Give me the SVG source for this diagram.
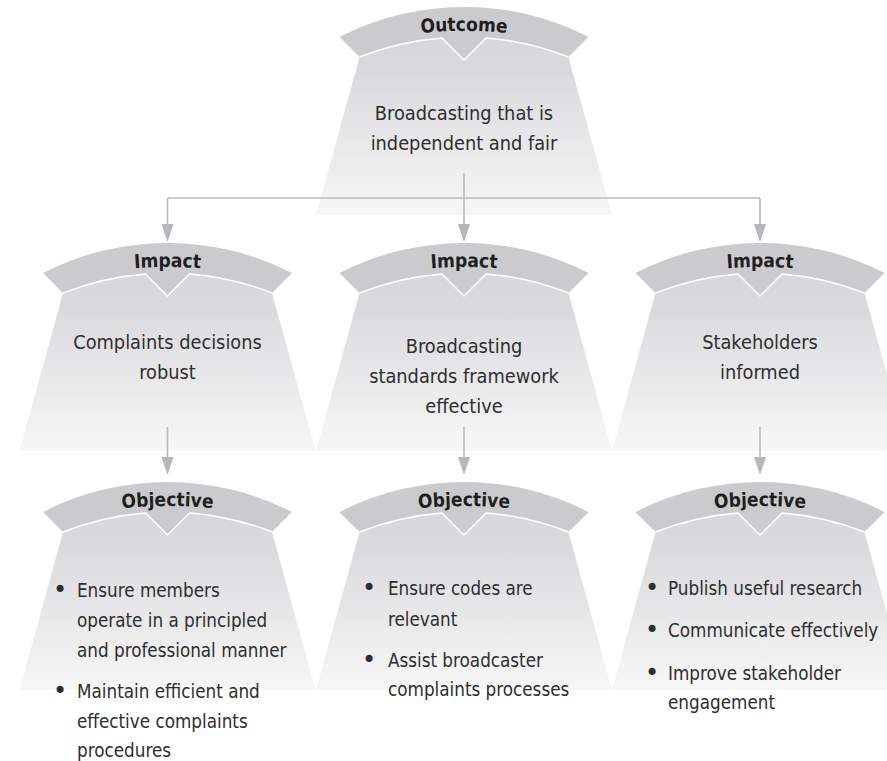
<svg xmlns="http://www.w3.org/2000/svg" xmlns:xlink="http://www.w3.org/1999/xlink" width="887" height="761" viewBox="0 0 887 761">
  <style>
    .label { font-family: 'DejaVu Sans Condensed', 'DejaVu Sans', sans-serif; font-stretch: condensed; font-weight: bold; font-size: 19px; fill: #1f1f1f; text-anchor: middle; }
    .main { font-family: 'DejaVu Sans Condensed', 'DejaVu Sans', sans-serif; font-stretch: condensed; font-size: 19.8px; fill: #2e2e2e; text-anchor: middle; }
    .item { font-family: 'DejaVu Sans Condensed', 'DejaVu Sans', sans-serif; font-stretch: condensed; font-size: 18.7px; fill: #2e2e2e; }
    .dot { font-family: 'DejaVu Sans', sans-serif; font-size: 24px; fill: #2e2e2e; text-anchor: middle; }
    .link { fill: none; stroke: #b9babd; stroke-width: 1.6; }
  </style>
  <defs>
    <linearGradient id="bodyFill" x1="0" y1="0" x2="0" y2="1">
      <stop offset="0" stop-color="#d7d7da"/>
      <stop offset="0.2" stop-color="#dadadd"/>
      <stop offset="1" stop-color="#f7f7f7"/>
    </linearGradient>
    <!-- shapes drawn around (0,0) = top centre of the header band -->
    <path id="body" d="M -104.5 50 L -148 208 L 148 208 L 104.5 50 L 104.5 30 L -104.5 30 Z" fill="url(#bodyFill)"/>
    <path id="band" d="M -124.5 30 A 273 273 0 0 1 124.5 30 L 104.5 50 A 283 283 0 0 0 22 30.9 L 0 53 L -22 30.9 A 283 283 0 0 0 -104.5 50 Z" fill="#cbcbce"/>
    <path id="bandEdge" d="M -104.5 50 A 283 283 0 0 1 -22 30.9 L 0 53 L 22 30.9 A 283 283 0 0 1 104.5 50" fill="none" stroke="#ffffff" stroke-width="1.5"/>
    <path id="labelArc" d="M -120 40.3 A 450 450 0 0 1 120 40.3" fill="none"/>
    <marker id="arrow" markerUnits="userSpaceOnUse" viewBox="0 0 18 12" markerWidth="18" markerHeight="12" refX="8" refY="6" orient="auto">
      <path d="M0,0 L18,6 L0,12 Z" fill="#b6b7ba"/>
    </marker>
  </defs>

  <rect width="887" height="761" fill="#ffffff"/>

  <!-- Outcome -->
  <g id="outcome">
    <use href="#body" transform="translate(464,7)"/>
    <use href="#band" transform="translate(464,7)"/>
    <use href="#bandEdge" transform="translate(464,7)"/>
    <text class="label" transform="translate(464,7)"><textPath href="#labelArc" startOffset="50%">Outcome</textPath></text>
    <text class="main" x="464" y="120">Broadcasting that is</text>
    <text class="main" x="464" y="150">independent and fair</text>
  </g>

  <!-- Impacts -->
  <g id="impact-complaints">
    <use href="#body" transform="translate(167.5,243)"/>
    <use href="#band" transform="translate(167.5,243)"/>
    <use href="#bandEdge" transform="translate(167.5,243)"/>
    <text class="label" transform="translate(167.5,243)"><textPath href="#labelArc" startOffset="50%">Impact</textPath></text>
    <text class="main" x="167.5" y="349">Complaints decisions</text>
    <text class="main" x="167.5" y="379">robust</text>
  </g>

  <g id="impact-standards">
    <use href="#body" transform="translate(464,243)"/>
    <use href="#band" transform="translate(464,243)"/>
    <use href="#bandEdge" transform="translate(464,243)"/>
    <text class="label" transform="translate(464,243)"><textPath href="#labelArc" startOffset="50%">Impact</textPath></text>
    <text class="main" x="464" y="353">Broadcasting</text>
    <text class="main" x="464" y="383">standards framework</text>
    <text class="main" x="464" y="413">effective</text>
  </g>

  <g id="impact-stakeholders">
    <use href="#body" transform="translate(760,243)"/>
    <use href="#band" transform="translate(760,243)"/>
    <use href="#bandEdge" transform="translate(760,243)"/>
    <text class="label" transform="translate(760,243)"><textPath href="#labelArc" startOffset="50%">Impact</textPath></text>
    <text class="main" x="760" y="349">Stakeholders</text>
    <text class="main" x="760" y="379">informed</text>
  </g>

  <!-- Objectives -->
  <g id="objective-complaints">
    <use href="#body" transform="translate(167.5,482)"/>
    <use href="#band" transform="translate(167.5,482)"/>
    <use href="#bandEdge" transform="translate(167.5,482)"/>
    <text class="label" transform="translate(167.5,482)"><textPath href="#labelArc" startOffset="50%">Objective</textPath></text>
    <text class="dot" x="60" y="598">•</text>
    <text class="item" x="77" y="597">Ensure members</text>
    <text class="item" x="77" y="627">operate in a principled</text>
    <text class="item" x="77" y="657">and professional manner</text>
    <text class="dot" x="60" y="699">•</text>
    <text class="item" x="77" y="698">Maintain efficient and</text>
    <text class="item" x="77" y="728">effective complaints</text>
    <text class="item" x="77" y="757">procedures</text>
  </g>

  <g id="objective-standards">
    <use href="#body" transform="translate(464,482)"/>
    <use href="#band" transform="translate(464,482)"/>
    <use href="#bandEdge" transform="translate(464,482)"/>
    <text class="label" transform="translate(464,482)"><textPath href="#labelArc" startOffset="50%">Objective</textPath></text>
    <text class="dot" x="369" y="596">•</text>
    <text class="item" x="388" y="595">Ensure codes are</text>
    <text class="item" x="388" y="626">relevant</text>
    <text class="dot" x="369" y="668">•</text>
    <text class="item" x="388" y="667">Assist broadcaster</text>
    <text class="item" x="388" y="696">complaints processes</text>
  </g>

  <g id="objective-stakeholders">
    <use href="#body" transform="translate(760,482)"/>
    <use href="#band" transform="translate(760,482)"/>
    <use href="#bandEdge" transform="translate(760,482)"/>
    <text class="label" transform="translate(760,482)"><textPath href="#labelArc" startOffset="50%">Objective</textPath></text>
    <text class="dot" x="652" y="596">•</text>
    <text class="item" x="668" y="595">Publish useful research</text>
    <text class="dot" x="652" y="638">•</text>
    <text class="item" x="668" y="637">Communicate effectively</text>
    <text class="dot" x="652" y="681">•</text>
    <text class="item" x="668" y="680">Improve stakeholder</text>
    <text class="item" x="668" y="709">engagement</text>
  </g>

  <!-- Connectors -->
  <g id="connectors">
    <path class="link" d="M 167.5 198 H 760"/>
    <path class="link" d="M 464 173 V 232" marker-end="url(#arrow)"/>
    <path class="link" d="M 167.5 198 V 232" marker-end="url(#arrow)"/>
    <path class="link" d="M 760 198 V 232" marker-end="url(#arrow)"/>
    <path class="link" d="M 167.5 427 V 465" marker-end="url(#arrow)"/>
    <path class="link" d="M 464 427 V 465" marker-end="url(#arrow)"/>
    <path class="link" d="M 760 427 V 465" marker-end="url(#arrow)"/>
  </g>
</svg>
